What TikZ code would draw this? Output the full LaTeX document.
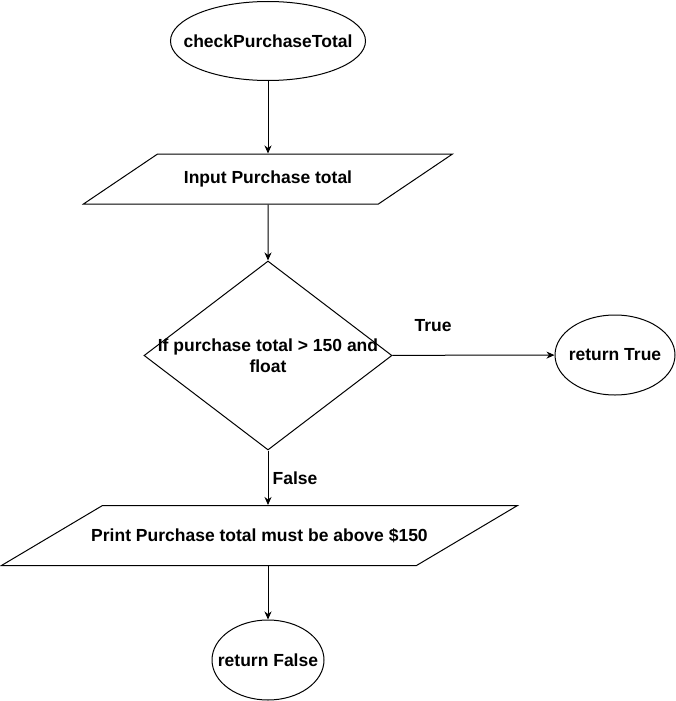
\documentclass[tikz,border=0pt]{standalone}
\usepackage{fontspec}
\setmainfont{Liberation Sans}
\usetikzlibrary{shapes.geometric,arrows.meta}
\begin{document}
\begin{tikzpicture}[x=1pt,y=-1pt,
  font=\bfseries\fontsize{17.5}{21}\selectfont,
  line width=1pt,
  ell/.style={draw, ellipse, inner sep=0pt},
  para/.style={draw, trapezium, inner sep=0pt, text depth=0pt},
  dia/.style={draw, diamond, inner sep=0pt},
  arr/.style={draw, -{Stealth[length=8pt,width=7pt,inset=2.5pt]}},
  lbl/.style={inner sep=0pt}]
\useasboundingbox (0,0) rectangle (676,701);
\node[ell, minimum width=195pt, minimum height=79pt, label={center:{checkPurchaseTotal}}] (start) at (268,41) {};
\node[para, trapezium left angle=34, trapezium right angle=146, text width=220.8pt, text height=50pt, label={center:{Input Purchase total}}] (p1) at (268,179) {};
\node[dia, minimum width=248pt, minimum height=189pt, label={[align=center]center:{If purchase total > 150 and\\float}}] (d) at (268,355.5) {};
\node[ell, minimum width=120pt, minimum height=80pt, label={center:{return True}}] (rt) at (615,355) {};
\node[para, trapezium left angle=30.71, trapezium right angle=149.29, text width=314pt, text height=60pt, label={center:{Print Purchase total must be above \$150}}] (p2) at (259.5,535.5) {};
\node[ell, minimum width=112pt, minimum height=80pt, label={center:{return False}}] (rf) at (268,660) {};
\node[lbl] (tl) at (433,326) {True};
\node[lbl] (fl) at (295,478) {False};
\draw[arr] (start) -- (p1);
\draw[arr] (p1) -- (d);
\draw[arr] (d) -- (rt);
\draw[arr] (d.south) -- (d.south |- p2.north);
\draw[arr] (rf.north |- p2.south) -- (rf.north);
\end{tikzpicture}
\end{document}
